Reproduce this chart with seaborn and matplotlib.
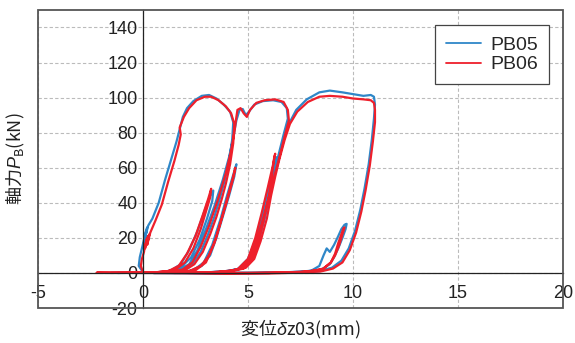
import numpy as np
import pandas as pd
import matplotlib
matplotlib.use("Agg")
import matplotlib.pyplot as plt
import seaborn as sns
from matplotlib.patches import Rectangle

# Hysteresis paths (displacement mm, axial force kN)
pb05_x = [0.0, -0.2, -0.15, -0.05, 0.05, 0.15, 0.05, 0.2, 0.1, 0.25,
          0.45, 0.75, 1.05, 1.35, 1.6, 1.75, 1.9, 2.1, 2.4, 2.8, 3.15, 3.5, 3.85, 4.15,
          4.3, 4.25, 4.1, 3.9, 3.65, 3.4, 3.1, 2.75, 2.35, 1.9, 1.2, 0.0, -1.2,
          -0.5, 0.6, 1.3, 1.8, 2.2, 2.6, 2.95, 3.2, 3.35, 3.3, 3.05, 2.7, 2.3, 1.8, 1.0, 0.0,
          1.0, 1.7, 2.2, 2.6, 3.0, 3.4, 3.8, 4.1, 4.3, 4.45, 4.6, 4.75, 4.9, 5.05, 5.3, 5.7, 6.2, 6.6, 6.85,
          6.9, 6.7, 6.45, 6.2, 5.9, 5.6, 5.3, 5.0, 4.6, 4.0, 3.0, 1.5, 0.5,
          1.5, 2.4, 2.9, 3.3, 3.7, 4.0, 4.3, 4.45, 4.35, 4.1, 3.8, 3.5, 3.2, 2.8, 2.2, 1.0,
          2.5, 4.0, 4.7, 5.1, 5.4, 5.7, 5.95, 6.15, 6.3, 6.35, 6.25, 6.0, 5.7, 5.4, 5.0, 4.5, 3.5,
          3.0, 4.0, 4.8, 5.2, 5.5, 5.8, 6.05, 6.25, 6.45, 6.7, 6.95, 7.3, 7.8, 8.4, 8.9, 9.5, 10.0, 10.5, 10.85, 11.0, 11.05,
          11.0, 10.9, 10.75, 10.55, 10.35, 10.1, 9.8, 9.45, 9.0, 8.4, 7.5, 6.0, 4.0, 2.0, 0.5,
          3.0, 5.0, 7.0, 8.0, 8.4, 8.6, 8.75, 8.9, 9.1, 9.3, 9.45, 9.6, 9.7, 9.65, 9.5, 9.3, 9.1, 8.9, 8.5, 7.5, 6.0, 4.0, 2.0, 0.0, -1.5]
pb05_y = [0.5, 4, 9, 14, 19, 24, 17, 26, 20, 27,
          31, 40, 53, 65, 75, 82, 89, 94, 98, 101, 101.5, 99.5, 96, 92,
          86, 76, 64, 53, 42, 32, 22, 12, 5, 1.5, 0.4, 0.1, 0,
          0.1, 0.3, 1.2, 5, 13, 24, 36, 44, 47, 41, 31, 19, 9, 3, 0.5, 0.1,
          0.3, 1.5, 5, 13, 25, 38, 53, 66, 77, 87, 93, 93.5, 90, 92, 96, 98, 98.5, 97.5, 94,
          88, 79, 67, 55, 41, 28, 16, 7, 2.5, 0.7, 0.1, 0, 0,
          0.2, 1.5, 6, 16, 31, 44, 56, 62, 55, 44, 32, 20, 10, 4, 1, 0.1,
          0.2, 0.8, 2.5, 7, 16, 30, 43, 56, 65, 66, 60, 48, 34, 20, 8, 2, 0.3,
          0.3, 1, 3, 8, 18, 31, 44, 55, 65, 76, 85, 93, 99, 103, 104, 103, 102, 101, 101.5, 100.5, 96,
          88, 76, 62, 48, 36, 24, 14, 7, 3, 1, 0.3, 0, -0.3, -0.2, 0,
          0.1, 0.2, 0.5, 1.2, 4, 10, 14, 12, 16, 21, 25, 27.5, 28, 25, 20, 14, 9, 5, 2, 0.5, 0, -0.3, 0, 0, 0.2]

pb06_x = [0.0, -0.1, -0.05, 0.05, 0.1, 0.2, 0.1, 0.25, 0.15, 0.3, 0.2, 0.35,
          0.6, 0.9, 1.2, 1.5, 1.7, 1.8, 1.75, 1.95, 2.2, 2.55, 2.95, 3.25, 3.6, 3.95, 4.2,
          4.35, 4.3, 4.15, 3.95, 3.75, 3.5, 3.2, 2.85, 2.45, 2.0, 1.3, 0.0, -1.5, -2.2,
          -1.0, 0.5, 1.2, 1.7, 2.1, 2.5, 2.85, 3.1, 3.25, 3.2, 3.0, 2.75, 2.4, 2.0, 1.5, 0.5,
          1.2, 1.9, 2.35, 2.75, 3.15, 3.55, 3.95, 4.2, 4.35, 4.45, 4.5, 4.65, 4.8, 4.95, 5.1, 5.4, 5.8, 6.3, 6.7, 6.9,
          6.95, 6.75, 6.5, 6.25, 5.95, 5.65, 5.35, 5.05, 4.65, 4.0, 3.0, 1.5,
          1.6, 2.5, 3.0, 3.4, 3.75, 4.05, 4.3, 4.4, 4.3, 4.05, 3.75, 3.45, 3.15, 2.75, 2.2, 1.0,
          2.6, 4.1, 4.8, 5.15, 5.45, 5.75, 6.0, 6.15, 6.25, 6.3, 6.2, 5.95, 5.65, 5.35, 5.0, 4.5, 3.5,
          3.1, 4.1, 4.9, 5.3, 5.6, 5.9, 6.1, 6.3, 6.5, 6.75, 7.0, 7.35, 7.85, 8.4, 8.9, 9.5, 10.0, 10.5, 10.85, 11.0, 11.05,
          11.05, 10.95, 10.8, 10.6, 10.4, 10.15, 9.85, 9.5, 9.05, 8.45, 7.5, 6.0, 4.0, 2.0, 0.5,
          3.0, 5.0, 7.0, 8.0, 8.6, 8.95, 9.15, 9.3, 9.45, 9.55, 9.6, 9.5, 9.35, 9.15, 8.95, 8.55, 7.5, 6.0, 4.0, 2.0, 0.0, -2.2]
pb06_y = [0.5, 4, 8, 12, 16, 20, 14, 21, 17, 22, 16, 23,
          30, 39, 52, 64, 73, 79, 83, 89, 94, 98.5, 100.5, 100.5, 98.5, 95, 91,
          85, 74, 62, 51, 42, 32, 22, 12, 5, 1.5, 0.4, 0.1, 0, 0.1,
          0.2, 0.3, 1, 4, 11, 21, 33, 42, 48, 43, 35, 25, 14, 6, 1.5, 0.2,
          0.3, 2, 6, 15, 27, 41, 57, 70, 80, 89, 93, 94, 91, 89, 93, 97, 98.5, 99, 97.5, 93,
          87, 78, 66, 55, 41, 28, 16, 7, 2.5, 0.7, 0.1, 0,
          0.2, 1.5, 6, 17, 31, 44, 55, 60, 54, 43, 31, 19, 10, 4, 1, 0.1,
          0.2, 0.8, 2.5, 7, 16, 30, 44, 56, 66, 68, 62, 49, 34, 20, 8, 2, 0.3,
          0.3, 1, 3, 8, 18, 31, 44, 55, 65, 76, 85, 92, 97.5, 100.5, 101, 100.5, 99.5, 99, 98.5, 97, 93,
          86, 75, 61, 47, 35, 23, 13, 6, 2.5, 0.8, 0.2, -0.3, -0.3, -0.1, 0,
          0.1, 0.1, 0.4, 1, 2.5, 6, 11, 17, 22, 25.5, 26, 22, 16, 10, 6, 2, 0.4, 0, -0.2, 0, 0, 0.1]

x_ticks = [-5, 0, 5, 10, 15, 20]
y_ticks = [-20, 0, 20, 40, 60, 80, 100, 120, 140]
series_colors = {"PB05": "#2f87c8", "PB06": "#ee1f2b"}

df = pd.concat([
    pd.DataFrame({"x": pb05_x, "y": pb05_y, "series": "PB05"}),
    pd.DataFrame({"x": pb06_x, "y": pb06_y, "series": "PB06"}),
], ignore_index=True)

sns.set_style("white")
plt.rcParams["font.family"] = ["Liberation Sans", "Noto Sans CJK JP", "DejaVu Sans"]
# italic symbols inside the axis labels
plt.rcParams["mathtext.fontset"] = "custom"
plt.rcParams["mathtext.rm"] = "Noto Sans CJK JP"
plt.rcParams["mathtext.it"] = "Liberation Sans:italic"

fig = plt.figure(figsize=(5.75, 3.43), dpi=100)
ax = fig.add_axes([0.066, 0.102, 0.913, 0.869])

sns.lineplot(data=df, x="x", y="y", hue="series", palette=series_colors,
             sort=False, estimator=None, linewidth=1.6, ax=ax, legend=False)

ax.set_xlim(-5, 20)
ax.set_ylim(-20, 150)
ax.set_xticks(x_ticks)
ax.set_yticks(y_ticks)
ax.set_xticklabels([str(t) for t in x_ticks])
ax.set_yticklabels([str(t) for t in y_ticks])
ax.tick_params(length=0, labelsize=13, colors="#222222")
ax.tick_params(axis="x", pad=9)
ax.tick_params(axis="y", pad=4)

# axes cross at the origin, outer box drawn separately
ax.spines["left"].set_position(("data", 0))
ax.spines["bottom"].set_position(("data", 0))
for s in ["left", "bottom"]:
    ax.spines[s].set_color("#222222")
    ax.spines[s].set_linewidth(0.9)
for s in ["top", "right"]:
    ax.spines[s].set_visible(False)
ax.add_patch(Rectangle((0, 0), 1, 1, transform=ax.transAxes, fill=False,
                       edgecolor="#555555", linewidth=1.3, clip_on=False, zorder=5))

ax.grid(True, linestyle=(0, (3, 2)), color="#bbbbbb", linewidth=0.8)
ax.set_axisbelow(True)

# the CJK family must be the text's own font so mathtext finds the glyphs
ax.set_xlabel("変位$\\delta$z03(mm)", fontsize=13, fontfamily="Noto Sans CJK JP", color="#222222")
ax.set_ylabel("軸力$P_\\mathrm{B}$(kN)", fontsize=13, fontfamily="Noto Sans CJK JP", color="#222222")
ax.xaxis.set_label_coords(0.5, -0.035)
ax.yaxis.set_label_coords(-0.02, 0.5)

handles = [plt.Line2D([], [], color=c, linewidth=1.3) for c in series_colors.values()]
leg = ax.legend(handles, list(series_colors.keys()), loc="upper right",
                bbox_to_anchor=(0.974, 0.948), borderaxespad=0, fontsize=14,
                frameon=True, fancybox=False, framealpha=1, edgecolor="#444444",
                handlelength=1.8, handletextpad=0.5, labelspacing=0.1,
                borderpad=0.55)
leg.get_frame().set_linewidth(0.9)

fig.savefig("out.png", dpi=100)
